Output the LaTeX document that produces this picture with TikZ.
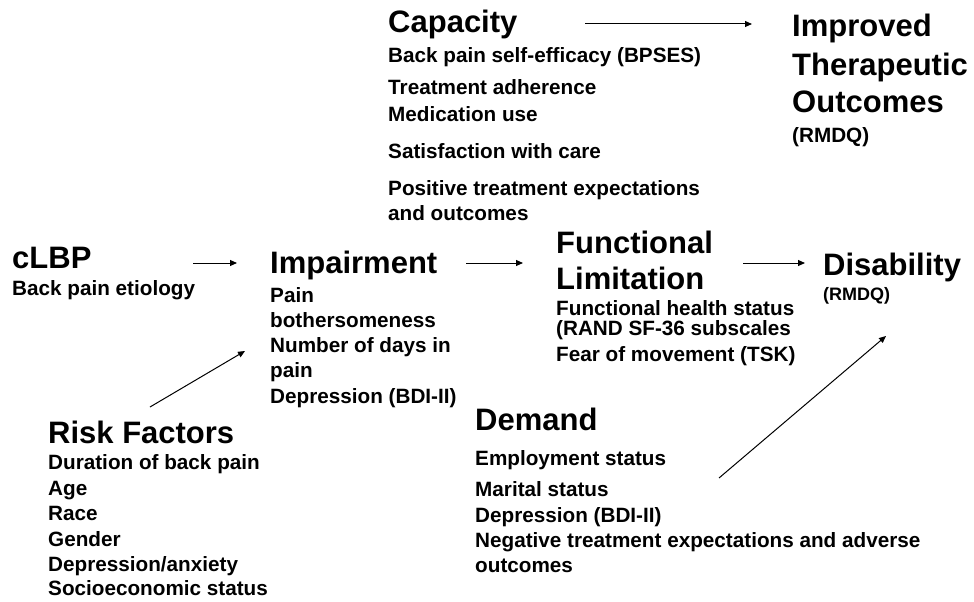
\documentclass[tikz,border=0pt]{standalone}
\usepackage{fontspec}
\setmainfont{Liberation Sans}
\usetikzlibrary{arrows.meta}
\begin{document}
\begin{tikzpicture}[x=1pt,y=-1pt,
  title/.style={anchor=base west,inner sep=0pt,font=\fontsize{31}{31}\selectfont\bfseries},
  body/.style={anchor=base west,inner sep=0pt,font=\fontsize{20.7}{20.7}\selectfont\bfseries},
  small/.style={anchor=base west,inner sep=0pt,font=\fontsize{18}{18}\selectfont\bfseries},
  conn/.style={line width=1pt,-{Triangle[length=7pt,width=6pt]}}]
\useasboundingbox (0,0) rectangle (974,602);
% Capacity
\node[title] (cap) at (388,33) {Capacity};
\node[body] (cap1) at (388,63) {Back pain self-efficacy (BPSES)};
\node[body] (cap2) at (388,94) {Treatment adherence};
\node[body] (cap3) at (388,121) {Medication use};
\node[body] (cap4) at (388,158) {Satisfaction with care};
\node[body] (cap5) at (388,195) {Positive treatment expectations};
\node[body] (cap6) at (388,220) {and outcomes};
% Improved
\node[title] (imp1) at (792,37) {Improved};
\node[title] (imp2) at (792,75) {Therapeutic};
\node[title] (imp3) at (792,112) {Outcomes};
\node[body] (imp4) at (792,142) {(RMDQ)};
% cLBP
\node[title] (clbp) at (12,268) {cLBP};
\node[body] (clbp1) at (12,295) {Back pain etiology};
% Impairment
\node[title] (impa) at (270,273) {Impairment};
\node[body] (impa1) at (270,302) {Pain};
\node[body] (impa2) at (270,327) {bothersomeness};
\node[body] (impa3) at (270,352) {Number of days in};
\node[body] (impa4) at (270,377) {pain};
\node[body] (impa5) at (270,403) {Depression (BDI-II)};
% Functional limitation
\node[title] (fl1) at (556,253) {Functional};
\node[title] (fl2) at (556,289) {Limitation};
\node[body] (fl3) at (556,315) {Functional health status};
\node[body] (fl4) at (556,335) {(RAND SF-36 subscales};
\node[body] (fl5) at (556,361) {Fear of movement (TSK)};
% Disability
\node[title] (dis) at (823,275) {Disability};
\node[small] (dis1) at (823,300) {(RMDQ)};
% Risk factors
\node[title] (rf) at (48,443) {Risk Factors};
\node[body] (rf1) at (48,469) {Duration of back pain};
\node[body] (rf2) at (48,495) {Age};
\node[body] (rf3) at (48,520) {Race};
\node[body] (rf4) at (48,546) {Gender};
\node[body] (rf5) at (48,571) {Depression/anxiety};
\node[body] (rf6) at (48,595) {Socioeconomic status};
% Demand
\node[title] (dem) at (475,430) {Demand};
\node[body] (dem1) at (475,465) {Employment status};
\node[body] (dem2) at (475,496) {Marital status};
\node[body] (dem3) at (475,522) {Depression (BDI-II)};
\node[body] (dem4) at (475,547) {Negative treatment expectations and adverse};
\node[body] (dem5) at (475,572) {outcomes};
% arrow ends
\coordinate (a1s) at (585,24); \coordinate (a1e) at (752,24);
\coordinate (a2s) at (193,263); \coordinate (a2e) at (237,263);
\coordinate (a3s) at (466,263); \coordinate (a3e) at (523,263);
\coordinate (a4s) at (743,263); \coordinate (a4e) at (805,263);
\coordinate (a5s) at (150,407); \coordinate (a5e) at (245,351);
\coordinate (a6s) at (719,478); \coordinate (a6e) at (886,336);
\draw[conn] (a1s) -- (a1e);
\draw[conn] (a2s) -- (a2e);
\draw[conn] (a3s) -- (a3e);
\draw[conn] (a4s) -- (a4e);
\draw[conn] (a5s) -- (a5e);
\draw[conn] (a6s) -- (a6e);
\end{tikzpicture}
\end{document}
